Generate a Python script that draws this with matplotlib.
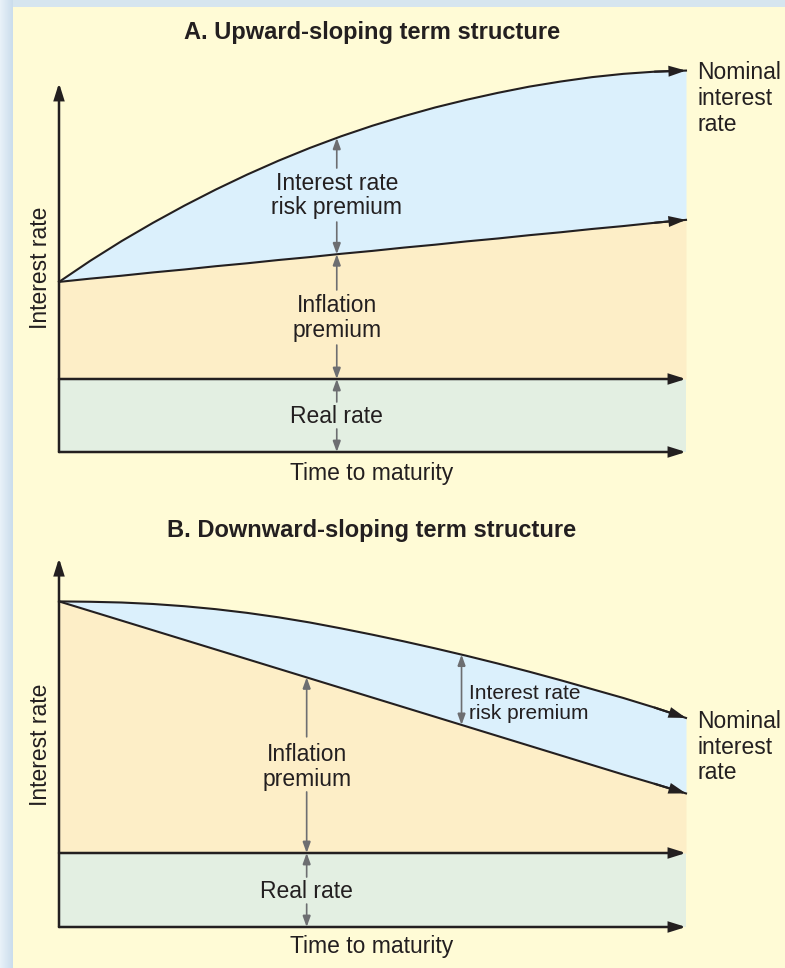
"""Term structure of interest rates: upward and downward sloping cases."""

import matplotlib
matplotlib.use("Agg")
import matplotlib.pyplot as plt
import numpy as np

plt.rcParams["font.family"] = ["Liberation Sans", "DejaVu Sans"]

# time to maturity (axis units, read every half step)
maturity = [0.0, 0.5, 1.0, 1.5, 2.0, 2.5, 3.0, 3.5, 4.0, 4.5, 5.0,
            5.5, 6.0, 6.5, 7.0, 7.5, 8.0, 8.5, 9.0, 9.5, 10.0]

# A. upward-sloping term structure (rate units, real rate = 2)
nominal_a = [4.66, 5.24, 5.78, 6.28, 6.75, 7.19, 7.60, 7.98, 8.33, 8.65, 8.94,
             9.20, 9.44, 9.65, 9.84, 10.01, 10.15, 10.27, 10.36, 10.42, 10.45]
inflation_a = [4.66, 4.75, 4.83, 4.92, 5.00, 5.09, 5.17, 5.26, 5.34, 5.43, 5.51,
               5.60, 5.68, 5.77, 5.85, 5.94, 6.02, 6.11, 6.19, 6.28, 6.36]
real_a = [2.0] * 21

# B. downward-sloping term structure
nominal_b = [8.80, 8.79, 8.77, 8.73, 8.67, 8.59, 8.49, 8.37, 8.23, 8.07, 7.90,
             7.72, 7.53, 7.33, 7.12, 6.90, 6.67, 6.43, 6.19, 5.93, 5.65]
inflation_b = [8.80, 8.54, 8.28, 8.02, 7.76, 7.50, 7.24, 6.98, 6.72, 6.46, 6.20,
               5.94, 5.68, 5.42, 5.16, 4.90, 4.64, 4.38, 4.12, 3.87, 3.61]
real_b = [2.0] * 21

BG = "#fffbd6"
BLUE = "#dbf0fc"
PEACH = "#fdeec7"
GREEN = "#e3efe2"
INK = "#231f20"
GRAY = "#6d6e71"

W, H = 785, 968


def _arrow(ax, start, end, color=INK, lw=1.6, style="-|>,head_length=0.67,head_width=0.21", ms=14):
    ax.annotate(
        "", xy=end, xytext=start,
        arrowprops=dict(arrowstyle=style, color=color, lw=lw, shrinkA=0, shrinkB=0,
                        mutation_scale=ms, joinstyle="miter"),
        annotation_clip=False,
    )


def _gray(ax, start, end, both=False):
    style = "<|-|>" if both else "-|>"
    _arrow(ax, start, end, color=GRAY, lw=1.2, style=style + ",head_length=0.55,head_width=0.2", ms=12)


def _panel(ax, nominal, inflation, real, ytip):
    t = np.array(maturity)
    ax.fill_between(t, real, 0, color=GREEN, lw=0, zorder=1)
    ax.fill_between(t, inflation, real, color=PEACH, lw=0, zorder=1)
    ax.fill_between(t, nominal, inflation, color=BLUE, lw=0, zorder=1)

    for series in (nominal, inflation):
        ax.plot(t, series, color=INK, lw=1.5, zorder=3, clip_on=False, solid_joinstyle="round")
        _arrow(ax, (t[-2], series[-2]), (t[-1], series[-1]), lw=1.5)

    # axes, real rate line
    _arrow(ax, (0, 0), (0, ytip), lw=1.8)
    _arrow(ax, (0, 0), (10, 0), lw=1.8)
    _arrow(ax, (0, real[0]), (10, real[-1]), lw=1.8)

    ax.set_xlim(0, 10)
    ax.set_ylim(0, 11)
    ax.axis("off")


fig = plt.figure(figsize=(W / 100, H / 100), dpi=100)
fig.patch.set_facecolor(BG)

# light blue frame on the left and top edges
left = np.linspace([232, 241, 248], [203, 221, 236], 13) / 255.0
fig.figimage(np.tile(left[None, :, :], (H, 1, 1)), xo=0, yo=0, origin="upper", zorder=0)
top = np.tile(np.array([214, 229, 239]) / 255.0, (7, W - 13, 1))
fig.figimage(top, xo=13, yo=H - 7, origin="upper", zorder=0)

# ---- Panel A ----
ax_a = fig.add_axes([59 / W, (H - 452) / H, 627 / W, 11 * 36.5 / H])
_panel(ax_a, nominal_a, inflation_a, real_a, ytip=10.11)

xa = 4.43
n_at = np.interp(xa, maturity, nominal_a)
i_at = np.interp(xa, maturity, inflation_a)
_gray(ax_a, (xa, 7.78), (xa, n_at))
_gray(ax_a, (xa, 6.30), (xa, i_at))
ax_a.text(xa, 7.03, "Interest rate\nrisk premium", ha="center", va="center",
          fontsize=16.5, color=INK, linespacing=1.1, zorder=5)
_gray(ax_a, (xa, 4.44), (xa, i_at))
_gray(ax_a, (xa, 2.93), (xa, real_a[0]))
ax_a.text(xa, 3.68, "Inflation\npremium", ha="center", va="center",
          fontsize=16.5, color=INK, linespacing=1.1, zorder=5)
_gray(ax_a, (xa, 1.37), (xa, real_a[0]))
_gray(ax_a, (xa, 0.63), (xa, 0))
ax_a.text(xa, 0.96, "Real rate", ha="center", va="center", fontsize=16.5, color=INK, zorder=5)

ax_a.text(4.98, -0.58, "Time to maturity", ha="center", va="center", fontsize=16.5, color=INK)
ax_a.text(-0.30, 5.04, "Interest rate", ha="center", va="center", rotation=90,
          fontsize=16.5, color=INK)
ax_a.text(10.18, 9.68, "Nominal\ninterest\nrate", ha="left", va="center",
          fontsize=16.5, color=INK, linespacing=1.15)

fig.text(372 / W, 1 - 33 / H, "A. Upward-sloping term structure", ha="center", va="center",
         fontsize=17, fontweight="bold", color=INK)

# ---- Panel B ----
ax_b = fig.add_axes([59 / W, (H - 927) / H, 627 / W, 11 * 37 / H])
_panel(ax_b, nominal_b, inflation_b, real_b, ytip=9.97)

xr = 6.42
_gray(ax_b, (xr, np.interp(xr, maturity, inflation_b)), (xr, np.interp(xr, maturity, nominal_b)),
      both=True)
ax_b.text(6.54, 6.05, "Interest rate\nrisk premium", ha="left", va="center",
          fontsize=15, color=INK, linespacing=1.05, zorder=5)

xb = 3.95
_gray(ax_b, (xb, 5.14), (xb, np.interp(xb, maturity, inflation_b)))
_gray(ax_b, (xb, 3.65), (xb, real_b[0]))
ax_b.text(xb, 4.32, "Inflation\npremium", ha="center", va="center",
          fontsize=16.5, color=INK, linespacing=1.1, zorder=5)
_gray(ax_b, (xb, 1.35), (xb, real_b[0]))
_gray(ax_b, (xb, 0.62), (xb, 0))
ax_b.text(xb, 0.97, "Real rate", ha="center", va="center", fontsize=16.5, color=INK, zorder=5)

ax_b.text(4.98, -0.54, "Time to maturity", ha="center", va="center", fontsize=16.5, color=INK)
ax_b.text(-0.30, 4.92, "Interest rate", ha="center", va="center", rotation=90,
          fontsize=16.5, color=INK)
ax_b.text(10.18, 4.86, "Nominal\ninterest\nrate", ha="left", va="center",
          fontsize=16.5, color=INK, linespacing=1.15)

fig.text(372 / W, 1 - 530 / H, "B. Downward-sloping term structure", ha="center", va="center",
         fontsize=17, fontweight="bold", color=INK)

fig.savefig("out.png", dpi=100, facecolor=BG)
plt.close(fig)
